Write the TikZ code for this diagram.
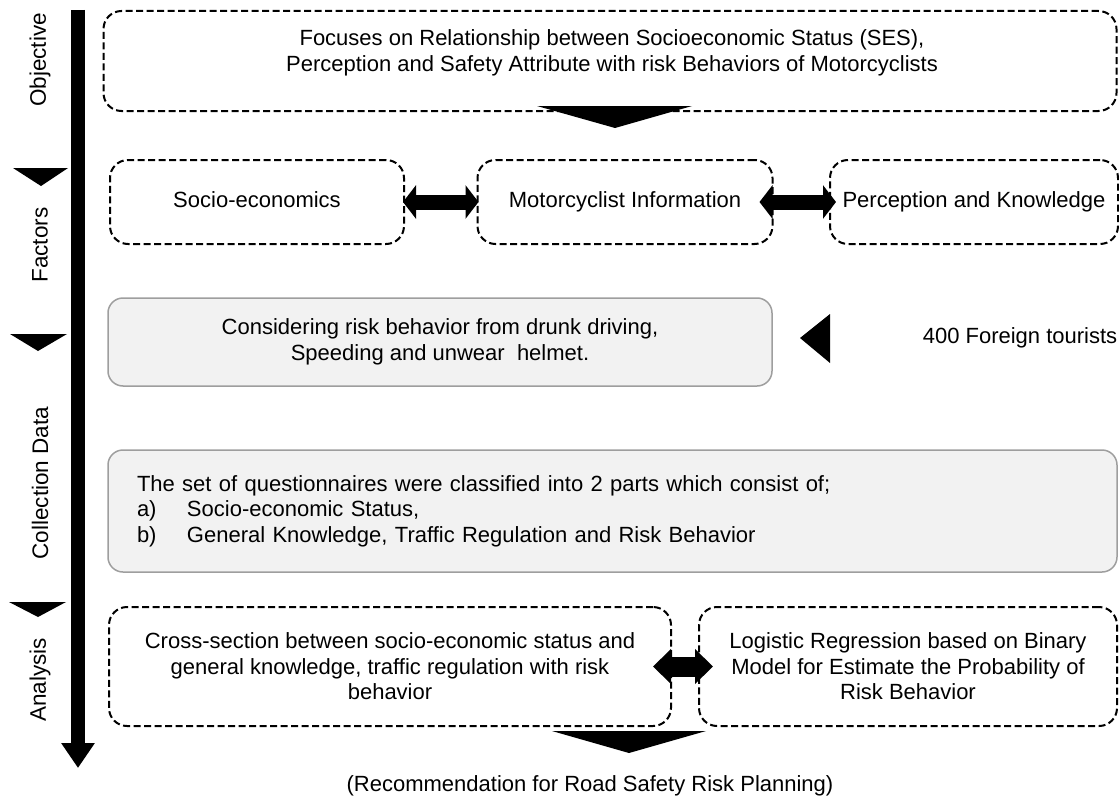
\documentclass[tikz,border=0pt]{standalone}
\usepackage{fontspec}
\setmainfont{Liberation Sans}
\usetikzlibrary{arrows.meta,calc}
\begin{document}
\begin{tikzpicture}[x=1pt,y=-1pt,
  txt/.style={font=\fontsize{22}{25.5}\selectfont, align=center, inner sep=0pt},
  dbox/.style={draw, line width=2pt, dash pattern=on 7pt off 3.5pt, rounded corners=18pt, inner sep=0pt, font=\fontsize{22}{25.5}\selectfont, align=center},
  gbox/.style={draw=black!38, fill=black!5, line width=1.5pt, rounded corners=15pt, inner sep=0pt, font=\fontsize{22}{25.5}\selectfont},
  sidelabel/.style={font=\fontsize{22.5}{25}\selectfont, rotate=90, inner sep=0pt},
  fac/.style={dbox, minimum height=84pt, text height=16pt, text depth=5pt},
  dbl/.style={line width=#1, {Triangle[length=13pt,width=33pt]}-{Triangle[length=13pt,width=33pt]}},
]
\useasboundingbox (0,0) rectangle (1119,800);

% left axis
\coordinate (axtop) at (78,10);
\coordinate (axbot) at (78,768);
\draw[line width=14pt, -{Triangle[length=25pt,width=32pt]}] (axtop) -- (axbot);
\fill (13,168) -- (68,168) -- (41,186) -- cycle;
\fill (10,334) -- (67,334) -- (38,351) -- cycle;
\fill (9,602) -- (66,602) -- (38,617) -- cycle;
\node[sidelabel] (lobj) at (40,60) {Objective};
\node[sidelabel] (lfac) at (40,245) {Factors};
\node[sidelabel] (lcol) at (40,483) {Collection Data};
\node[sidelabel] (lana) at (40,680) {Analysis};

% objective
\node[dbox, minimum width=1013pt, minimum height=100pt] (obj) at (610,61) {};
\node[txt] (objt) at (612,53) {Focuses on Relationship between Socioeconomic Status (SES),\\Perception and Safety Attribute with risk Behaviors of Motorcyclists};
\fill (537,106) -- (692,106) -- (615,128) -- cycle;

% factors
\node[fac, minimum width=294pt] (soc) at (257,202) {Socio-economics};
\node[fac, minimum width=295pt] (mot) at (625,202) {Motorcyclist Information};
\node[fac, minimum width=288pt] (per) at (974,202) {Perception and Knowledge};
\draw[dbl=15pt] ([xshift=-2pt]soc.east) -- ([xshift=2pt]mot.west);
\draw[dbl=15pt] ([xshift=-14pt]mot.east) -- ([xshift=7pt]per.west);

% collection
\node[gbox, minimum width=664pt, minimum height=88pt, align=center] (g1) at (440,342) {Considering risk behavior from drunk driving,\\Speeding and unwear\ \ helmet.};
\fill (800,338) -- (830,314) -- (830,363) -- cycle;
\node[txt] (tour) at (1020,338) {400 Foreign tourists};

\node[gbox, minimum width=1009pt, minimum height=122pt, text width=951pt, inner xsep=29pt, align=left] (g2) at (612.5,511) {The set of questionnaires were classified into 2 parts which consist of;\\
\makebox[50pt][l]{a)}Socio-economic Status,\\
\makebox[50pt][l]{b)}General Knowledge, Traffic Regulation and Risk Behavior};

% analysis
\node[dbox, minimum width=562pt, minimum height=119pt] (an1) at (390,666.5) {Cross-section between socio-economic status and\\general knowledge, traffic regulation with risk\\behavior};
\node[dbox, minimum width=418pt, minimum height=119pt] (an2) at (908,666.5) {Logistic Regression based on Binary\\Model for Estimate the Probability of\\Risk Behavior};
\draw[line width=20pt, {Triangle[length=18pt,width=34pt]}-{Triangle[length=18pt,width=34pt]}] ([xshift=-19pt]an1.east) -- ([xshift=15pt]an2.west);
\fill (552,731) -- (706,731) -- (629,753) -- cycle;

\node[txt] (rec) at (590,786) {(Recommendation for Road Safety Risk Planning)};
\end{tikzpicture}
\end{document}
